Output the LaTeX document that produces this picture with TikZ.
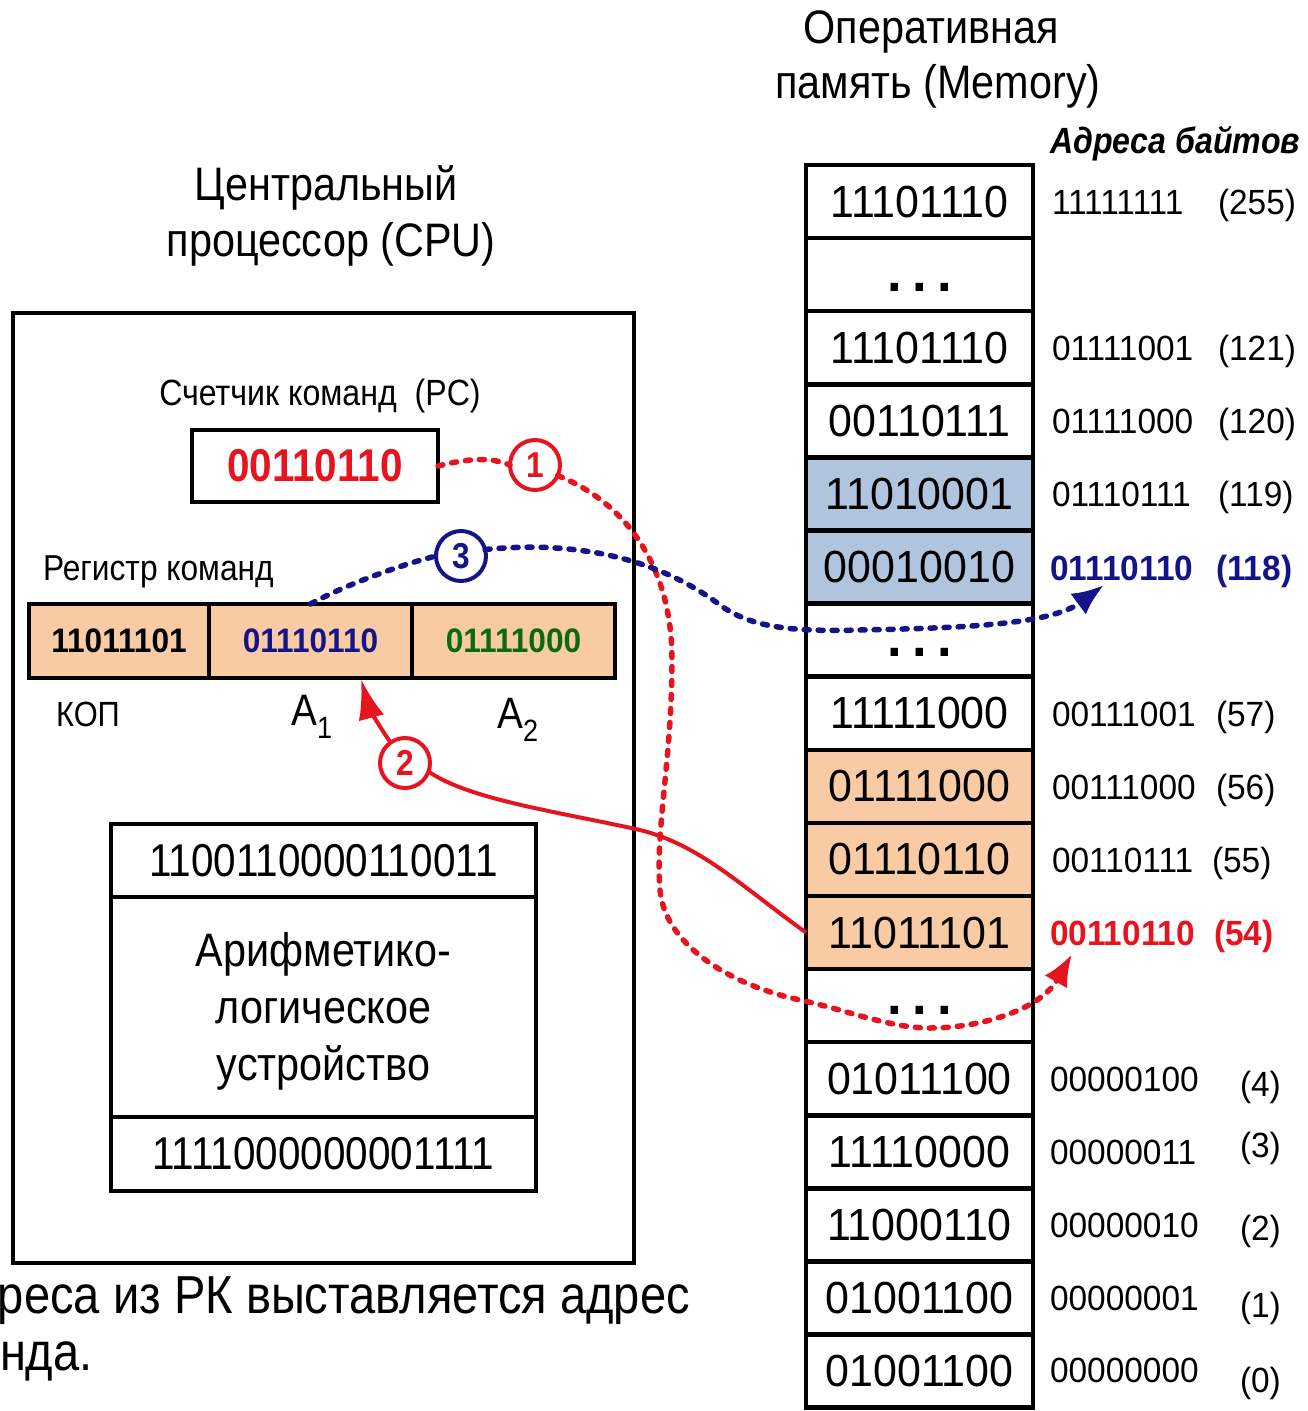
\documentclass[tikz,border=0pt]{standalone}
\usepackage{fontspec}
\setmainfont[FakeStretch=0.88]{Liberation Sans}
\newfontfamily\digw[FakeStretch=0.955]{Liberation Sans}
\newfontfamily\digr[FakeStretch=0.93]{Liberation Sans}
\usetikzlibrary{arrows.meta}
\definecolor{myred}{RGB}{230,20,30}
\definecolor{mynavy}{RGB}{20,20,135}
\definecolor{mygreen}{RGB}{10,105,20}
\definecolor{peach}{RGB}{249,203,164}
\definecolor{steel}{RGB}{176,196,222}
\newcommand{\fsz}[1]{\fontsize{#1}{#1}\selectfont}
\newcommand{\mdots}{\vphantom{0}\raisebox{-2pt}{\fsz{55}\bfseries .\hspace{10.5pt}.\hspace{10.5pt}.}}
\newcommand{\mdotsb}{\vphantom{0}\raisebox{7pt}{\fsz{55}\bfseries .\hspace{10.5pt}.\hspace{10.5pt}.}}
\begin{document}
\begin{tikzpicture}[x=1pt,y=-1pt,
  every node/.style={inner sep=0pt, outer sep=0pt},
  cell/.style={draw, line width=4.5pt, minimum width=227pt, minimum height=73.1pt, font=\digw\fsz{45}},
  boxs/.style={draw, line width=4pt},
  addr/.style={anchor=base west, font=\digw\fsz{35}},
  lbl/.style={anchor=base, font=\fsz{47}},
  num/.style={circle, draw, line width=4pt, fill=white, minimum size=50pt, font=\fsz{36}\bfseries},
  reddot/.style={draw=myred, line width=5.5pt, line cap=round, dash pattern=on 5pt off 9pt},
  bluedot/.style={draw=mynavy, line width=5.5pt, line cap=round, dash pattern=on 5pt off 9pt},
  redsolid/.style={draw=myred, line width=4pt}
]
\useasboundingbox (0,0) rectangle (1307,1411);

% ---------- memory ----------
\foreach \i/\t/\c in {1/11101110/white, 2/\mdots/white, 3/11101110/white, 4/00110111/white,
  5/11010001/steel, 6/00010010/steel, 7/\mdots/white, 8/11111000/white,
  9/01111000/peach, 10/01110110/peach, 11/11011101/peach, 12/\mdotsb/white,
  13/01011100/white, 14/11110000/white, 15/11000110/white, 16/01001100/white, 17/01001100/white}
  \node[cell, fill=\c] (m\i) at (919.5,{165+73.1*(\i-0.5)}) {\t};

\node[lbl] (memt1) at (931,43) {Оперативная};
\node[lbl] (memt2) at (938,98) {память (Memory)};
\node[anchor=base west, font=\fsz{36.5}\bfseries\itshape] (adrt) at (1050,153) {Адреса байтов};

\node[addr] (ad1) at (1052,214) {11111111};   \node[addr] (ap1) at (1218,214) {(255)};
\node[addr] (ad3) at (1052,360) {01111001};   \node[addr] (ap3) at (1218,360) {(121)};
\node[addr] (ad4) at (1052,433) {01111000};   \node[addr] (ap4) at (1218,433) {(120)};
\node[addr] (ad5) at (1052,506) {01110111};   \node[addr] (ap5) at (1218,506) {(119)};
\node[addr, text=mynavy, font=\digw\fsz{35}\bfseries] (ad6) at (1050,580) {01110110};
\node[addr, text=mynavy, font=\digw\fsz{35}\bfseries] (ap6) at (1216,580) {(118)};
\node[addr] (ad8) at (1052,726) {00111001};   \node[addr] (ap8) at (1216,726) {(57)};
\node[addr] (ad9) at (1052,799) {00111000};   \node[addr] (ap9) at (1216,799) {(56)};
\node[addr] (ad10) at (1052,872) {00110111};  \node[addr] (ap10) at (1212,872) {(55)};
\node[addr, text=myred, font=\digw\fsz{35}\bfseries] (ad11) at (1050,945) {00110110};
\node[addr, text=myred, font=\digw\fsz{35}\bfseries] (ap11) at (1214,945) {(54)};
\node[addr] (ad13) at (1050,1091) {00000100}; \node[addr] (ap13) at (1240,1096) {(4)};
\node[addr] (ad14) at (1050,1164) {00000011}; \node[addr] (ap14) at (1240,1157) {(3)};
\node[addr] (ad15) at (1050,1237) {00000010}; \node[addr] (ap15) at (1240,1240) {(2)};
\node[addr] (ad16) at (1050,1310) {00000001}; \node[addr] (ap16) at (1240,1317) {(1)};
\node[addr] (ad17) at (1050,1382) {00000000}; \node[addr] (ap17) at (1240,1392) {(0)};

% ---------- CPU ----------
\node[lbl] (cput1) at (326,200) {Центральный};
\node[lbl] (cput2) at (331,256) {процессор (CPU)};
\node[boxs, minimum width=621pt, minimum height=950pt, anchor=north west] (cpu) at (13,313) {};

\node[anchor=base, font=\fsz{36.5}] (pcl) at (320,405) {Счетчик команд\ \ (PC)};
\node[boxs, minimum width=246pt, minimum height=72pt, text=myred, font=\fsz{46}\bfseries] (pc) at (315,466) {00110110};

\node[anchor=base west, font=\fsz{36}] (rkl) at (43,580) {Регистр команд};
\node[boxs, fill=peach, minimum width=180pt, minimum height=74pt, font=\digr\fsz{34}\bfseries] (r1) at (119,641) {11011101};
\node[boxs, fill=peach, minimum width=203pt, minimum height=74pt, font=\digr\fsz{34}\bfseries, text=mynavy] (r2) at (310.5,641) {01110110};
\node[boxs, fill=peach, minimum width=203pt, minimum height=74pt, font=\digr\fsz{34}\bfseries, text=mygreen] (r3) at (513.5,641) {01111000};

\node[font=\fsz{35}] (kop) at (88,714) {КОП};
\node[font=\fsz{44}] (la1) at (312,717) {A\textsubscript{1}};
\node[font=\fsz{44}] (la2) at (518,720) {A\textsubscript{2}};

\node[boxs, minimum width=425pt, minimum height=73pt, font=\fsz{46}] (alu1) at (323.5,860.5) {1100110000110011};
\node[boxs, minimum width=425pt, minimum height=220pt] (alu2) at (323.5,1007) {};
\node[font=\fontsize{47}{57}\selectfont, align=center] (alut) at (323.5,1011) {Арифметико-\\логическое\\устройство};
\node[boxs, minimum width=425pt, minimum height=74pt, font=\fsz{46}] (alu3) at (323.5,1154) {1111000000001111};

\node[anchor=base west, font=\fsz{53.5}] (bt1) at (-2,1313) {реса из РК выставляется адрес};
\node[anchor=base west, font=\fsz{53.5}] (bt2) at (0,1370) {нда.};

% ---------- circles ----------
\node[num, draw=myred, text=myred] (c1) at (535,465) {1};
\node[num, draw=mynavy, text=mynavy] (c3) at (461,556) {3};
\node[num, draw=myred, text=myred] (c2) at (405,763) {2};

\coordinate (t54) at (1072,954);
\coordinate (t118) at (1104,585);
\coordinate (tA1) at (361,679);

% ---------- connectors ----------
\draw[redsolid] (m11.west) .. controls (740,885) and (700,845) .. (640,830)
  .. controls (560,812) and (470,800) .. (c2.-20);
\draw[redsolid, -{Latex[length=40pt,width=26pt]}] (c2.125) .. controls (380,728) and (368,705) .. (tA1);

\draw[reddot] (pc.east) .. controls (470,458) and (490,457) .. (c1.west);
\draw[reddot, -{Latex[length=32pt,width=26pt]}] (c1.-25) .. controls (620,500) and (672,560) .. (672,660)
  .. controls (672,760) and (655,830) .. (660,890)
  .. controls (665,945) and (730,985) .. (800,1000)
  .. controls (850,1011) and (890,1028) .. (930,1028)
  .. controls (980,1028) and (1040,1010) .. (t54);

\draw[bluedot] (r2.north) .. controls (345,585) and (400,565) .. (c3.west);
\draw[bluedot, -{Latex[length=32pt,width=26pt]}] (c3.15) .. controls (580,540) and (660,560) .. (720,605)
  .. controls (750,627) and (790,632) .. (860,630)
  .. controls (960,628) and (1050,625) .. (t118);
\end{tikzpicture}
\end{document}
